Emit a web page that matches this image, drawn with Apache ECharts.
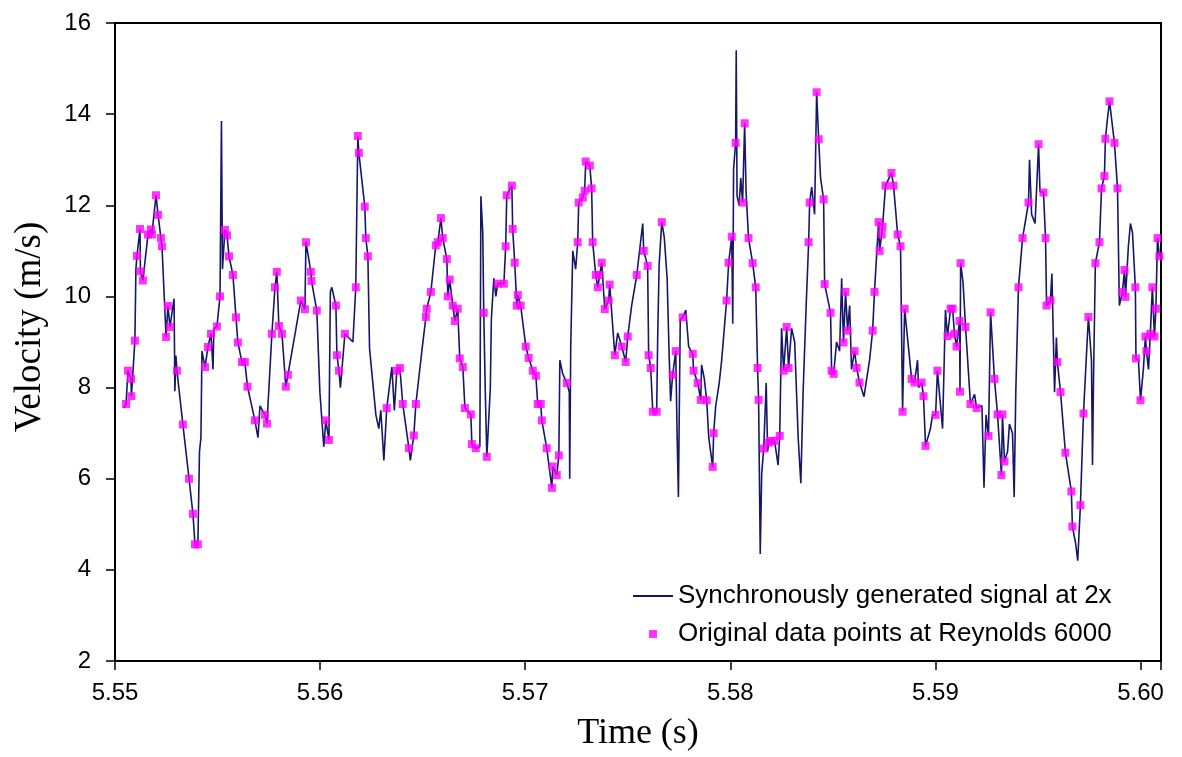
<!DOCTYPE html>
<html>
<head>
<meta charset="utf-8">
<script src="https://cdn.jsdelivr.net/npm/echarts@6/dist/echarts.min.js"></script>
<style>
html,body{margin:0;padding:0;background:#fff;}
#chart{width:1182px;height:757px;}
</style>
</head>
<body>
<div id="chart"></div>
<script>
// Original data points (time in s, velocity in m/s)
const originalTime = [
5.55054,5.55063,5.55078,5.55080,5.55097,5.55107,5.55122,5.55124,5.55136,5.55161,5.55175,5.55180,5.55200,5.55210,5.55224,5.55229,5.55249,5.55258,5.55268,5.55302,
5.55331,5.55361,5.55380,5.55390,5.55404,5.55439,5.55453,5.55468,5.55497,5.55512,5.55536,5.55546,5.55556,5.55575,5.55590,5.55599,5.55619,5.55633,5.55646,5.55682,
5.55731,5.55741,5.55765,5.55780,5.55789,5.55799,5.55814,5.55833,5.55843,5.55906,5.55926,5.55931,5.55955,5.55958,5.55984,5.56028,5.56043,5.56077,5.56082,5.56092,
5.56121,5.56174,5.56184,5.56189,5.56218,5.56223,5.56233,5.56325,5.56374,5.56389,5.56403,5.56433,5.56457,5.56467,5.56516,5.56520,5.56540,5.56564,5.56574,5.56589,
5.56598,5.56618,5.56623,5.56632,5.56647,5.56657,5.56671,5.56681,5.56696,5.56706,5.56735,5.56740,5.56759,5.56798,5.56813,5.56866,5.56896,5.56905,5.56910,5.56935,
5.56939,5.56949,5.56959,5.56964,5.56978,5.57003,5.57017,5.57037,5.57052,5.57061,5.57076,5.57081,5.57105,5.57130,5.57134,5.57154,5.57164,5.57203,5.57256,5.57261,
5.57281,5.57290,5.57295,5.57315,5.57324,5.57329,5.57344,5.57354,5.57363,5.57373,5.57388,5.57407,5.57412,5.57437,5.57471,5.57490,5.57500,5.57544,5.57578,5.57597,
5.57602,5.57612,5.57622,5.57641,5.57666,5.57719,5.57734,5.57768,5.57817,5.57821,5.57841,5.57856,5.57885,5.57914,5.57919,5.57982,5.57992,5.58007,5.58026,5.58060,
5.58070,5.58089,5.58109,5.58124,5.58133,5.58138,5.58163,5.58187,5.58197,5.58216,5.58241,5.58260,5.58275,5.58284,5.58382,5.58387,5.58421,5.58431,5.58455,5.58460,
5.58489,5.58494,5.58504,5.58552,5.58562,5.58572,5.58606,5.58616,5.58630,5.58694,5.58703,5.58723,5.58728,5.58738,5.58742,5.58757,5.58786,5.58796,5.58816,5.58830,
5.58840,5.58850,5.58884,5.58898,5.58933,5.58942,5.58952,5.59001,5.59010,5.59059,5.59074,5.59084,5.59093,5.59103,5.59118,5.59120,5.59123,5.59147,5.59171,5.59201,
5.59259,5.59269,5.59288,5.59303,5.59322,5.59327,5.59337,5.59405,5.59425,5.59454,5.59503,5.59527,5.59537,5.59542,5.59561,5.59595,5.59610,5.59634,5.59663,5.59668,
5.59707,5.59722,5.59746,5.59780,5.59800,5.59810,5.59824,5.59829,5.59849,5.59873,5.59888,5.59912,5.59922,5.59927,5.59975,5.59978,5.60000,5.60024,5.60029,5.60048,
5.60058,5.60068,5.60075,5.60083,5.60092
];
const originalVelocity = [
7.64,8.37,8.19,7.81,9.03,10.89,11.48,10.55,10.35,11.36,11.47,11.36,12.22,11.79,11.28,11.10,9.11,9.79,9.33,8.37,
7.19,6.00,5.23,4.56,4.56,8.45,8.89,9.18,9.34,10.00,11.46,11.34,10.88,10.47,9.54,8.99,8.56,8.56,8.02,7.28,
7.40,7.21,9.18,10.20,10.54,9.35,9.18,8.02,8.28,9.91,9.72,11.19,10.54,10.34,9.69,7.28,6.85,9.80,8.71,8.37,
9.18,10.20,13.52,13.15,11.97,11.28,10.88,7.55,8.37,8.43,7.64,6.67,6.95,7.64,9.55,9.73,10.10,11.12,11.19,11.72,
11.28,10.82,10.00,10.37,9.80,9.46,9.73,8.64,8.45,7.55,7.41,6.76,6.67,9.64,6.48,10.28,10.28,11.10,12.22,12.43,
11.48,10.74,9.80,10.03,9.80,8.90,8.65,8.37,8.26,7.64,7.64,7.28,6.67,5.80,6.27,6.08,6.51,8.10,11.19,12.06,
12.17,12.32,12.96,12.87,12.37,11.19,10.47,10.20,10.47,10.74,9.72,9.91,10.26,8.71,8.90,8.56,9.12,10.47,11.00,10.67,
8.71,8.43,7.47,7.47,11.63,8.28,8.80,9.54,8.74,8.37,8.10,7.73,7.72,6.26,7.00,9.91,10.74,11.31,13.37,12.06,
13.80,11.28,10.73,10.20,8.43,7.73,6.66,6.79,6.83,6.83,6.94,8.37,9.33,8.43,11.19,12.06,14.48,13.45,12.13,10.27,
9.64,8.37,8.30,8.99,10.10,9.25,8.80,8.43,8.11,9.25,10.10,11.63,11.00,11.36,11.53,12.43,12.71,12.43,11.36,11.10,
7.47,9.73,8.19,8.11,8.11,7.81,6.72,7.40,8.37,9.13,9.73,9.73,9.18,8.90,9.46,7.91,10.73,9.33,7.64,7.55,
6.94,9.65,8.19,7.41,6.08,7.41,6.38,10.20,11.28,12.06,13.34,12.28,11.28,9.80,9.91,8.56,7.90,6.57,5.72,4.95,
5.42,7.43,9.55,10.73,11.19,12.37,12.64,13.46,14.28,13.37,12.37,10.10,10.58,9.99,10.20,8.64,7.72,9.12,8.80,9.18,
10.20,9.12,9.73,11.28,10.88
];
// Additional samples of the synchronously generated 2x signal (between original points)
const extraTime = [
5.55044,5.55102,5.55288,5.55292,5.55297,5.55412,5.55419,5.55424,5.55478,5.55482,5.55519,5.55524,5.55697,5.55707,5.55999,5.56018,5.56050,5.56057,5.56099,5.56160,
5.56241,5.56272,5.56286,5.56296,5.56311,5.56350,5.56362,5.56440,5.56496,5.56779,5.56784,5.56793,5.56805,5.56830,5.56835,5.56847,5.56857,5.57169,5.57183,5.57215,
5.57217,5.57222,5.57232,5.57246,5.57451,5.57519,5.57573,5.57646,5.57653,5.57678,5.57692,5.57702,5.57709,5.57741,5.57747,5.57756,5.57783,5.57797,5.57860,5.57873,
5.57895,5.57929,5.57946,5.57958,5.58012,5.58016,5.58029,5.58033,5.58043,5.58051,5.58077,5.58146,5.58153,5.58175,5.58182,5.58233,5.58250,5.58299,5.58314,5.58331,
5.58344,5.58355,5.58370,5.58397,5.58411,5.58440,5.58518,5.58533,5.58543,5.58582,5.58591,5.58652,5.58679,5.58913,5.58918,5.58976,5.58986,5.59035,5.59049,5.59135,
5.59191,5.59227,5.59237,5.59247,5.59352,5.59361,5.59376,5.59384,5.59392,5.59459,5.59469,5.59486,5.59510,5.59568,5.59581,5.59590,5.59683,5.59694,5.59761,5.59766,
5.59771,5.59839,5.59897,5.59941,5.59951,5.59961,5.59990,5.60014,5.60039
];
const extraVelocity = [
7.55,10.6,9.95,7.92,8.7,6.6,6.9,8.8,8.4,9.3,13.85,10.6,6.9,7.6,7.9,6.7,10.1,10.2,8.0,9.0,
8.86,7.4,7.1,7.5,6.4,8.45,7.5,6.4,8.8,6.7,12.2,11.4,8.0,8.0,9.5,10.4,10.0,8.6,8.3,7.9,
6.0,8.9,11.0,10.6,9.2,9.8,11.6,9.1,10.7,11.3,10.4,8.7,7.7,6.9,5.6,9.5,9.7,8.9,8.5,8.2,
6.9,7.6,8.1,8.6,9.4,12.8,15.4,12.2,12.0,12.6,12.3,4.35,6.1,8.1,6.6,6.3,9.3,9.3,9.0,6.9,
5.9,7.9,9.8,12.4,11.8,12.6,9.0,8.8,10.4,9.8,8.4,7.8,8.6,8.6,8.0,7.1,7.4,7.1,9.7,10.3,
7.85,7.6,5.8,7.4,6.6,7.2,7.0,5.6,7.9,13.0,11.8,11.6,12.3,10.5,7.9,9.1,4.6,4.2,8.6,6.3,
8.2,13.9,9.8,11.1,11.6,11.4,8.6,8.4,8.4
];
const yTicks = [2,4,6,8,10,12,14,16];
const xTickLabels = ['5.55','5.56','5.57','5.58','5.59','5.60'];

const originalPoints = originalTime.map((t,i)=>[t, originalVelocity[i]]);
const signalPoints = originalPoints.concat(extraTime.map((t,i)=>[t, extraVelocity[i]]))
  .sort((a,b)=>a[0]-b[0]);

const lineColor = '#16166a';
const pointColor = '#ff00ff';

const chart = echarts.init(document.getElementById('chart'));
chart.setOption({
  animation:false,
  backgroundColor:'#fff',
  grid:{left:115,right:21,top:23,bottom:92,show:true,borderColor:'#000',borderWidth:2,backgroundColor:'transparent'},
  legend:{
    orient:'vertical', left:627, top:578, itemWidth:40, itemHeight:8, itemGap:12,
    symbolKeepAspect:true,
    textStyle:{fontFamily:'Liberation Sans',fontSize:26,color:'#000'},
    data:[
      {name:'Synchronously generated signal at 2x', itemStyle:{opacity:0}},
      {name:'Original data points at Reynolds 6000', icon:'path://M0,0L10,0L10,10L0,10Z'}
    ]
  },
  xAxis:{
    type:'value', min:5.55, max:5.601, interval:0.01,
    axisLine:{lineStyle:{color:'#000',width:2}},
    axisTick:{length:9,lineStyle:{color:'#000',width:1.5}},
    splitLine:{show:false},
    axisLabel:{margin:20,fontFamily:'Liberation Sans',fontSize:24,color:'#000',
      formatter:v=>{const k=Math.round((v-5.55)*100); return Math.abs((v-5.55)*100-k)<1e-6 ? xTickLabels[k] : '';}},
    name:'Time (s)', nameLocation:'middle', nameGap:55,
    nameTextStyle:{fontFamily:'Liberation Serif',fontSize:36,color:'#000'}
  },
  yAxis:{
    type:'value', min:yTicks[0], max:yTicks[yTicks.length-1], interval:2,
    axisLine:{show:true,lineStyle:{color:'#000',width:2}},
    axisTick:{show:true,length:9,lineStyle:{color:'#000',width:1.5}},
    splitLine:{show:false},
    axisLabel:{margin:24,fontFamily:'Liberation Sans',fontSize:24,color:'#000'},
    name:'Velocity (m/s)', nameLocation:'middle', nameGap:66,
    nameTextStyle:{fontFamily:'Liberation Serif',fontSize:37,color:'#000',padding:[0,0,0,30]}
  },
  series:[
    {name:'Synchronously generated signal at 2x',type:'line',data:signalPoints,symbol:'none',
     lineStyle:{color:lineColor,width:1.6},itemStyle:{color:lineColor},z:2},
    {name:'Original data points at Reynolds 6000',type:'scatter',data:originalPoints,symbol:'rect',symbolSize:8,
     itemStyle:{color:pointColor},z:3}
  ]
});
</script>
</body>
</html>
